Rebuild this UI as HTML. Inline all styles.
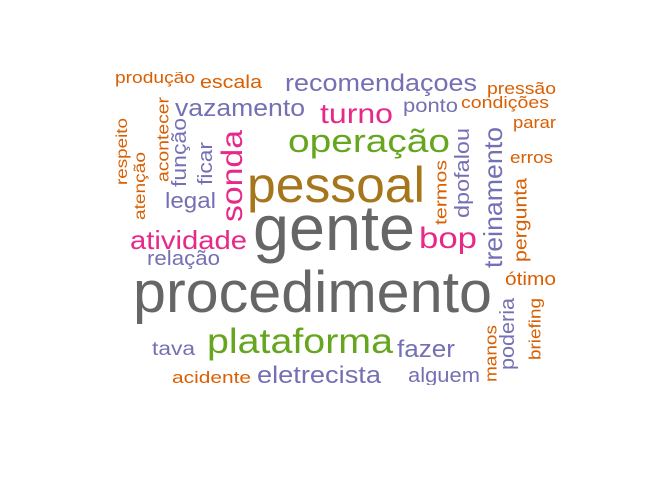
<!DOCTYPE html>
<html><head><meta charset="utf-8"><style>
html,body{margin:0;padding:0;background:#fff;width:672px;height:480px;overflow:hidden}
svg text{font-family:"Liberation Sans",Arial,sans-serif}
</style></head><body>
<svg id="cloud" width="672" height="480" xmlns="http://www.w3.org/2000/svg">
<defs><clipPath id="clip"><rect x="0" y="72" width="672" height="313"/></clipPath></defs>
<g id="words" clip-path="url(#clip)"></g>
</svg>
<script>
const words=["produção","escala","recomendaçoes","pressão","vazamento","turno","ponto","condições","parar","operação","erros","respeito","atenção","acontecer","função","ficar","legal","sonda","pessoal","termos","dpofalou","treinamento","pergunta","atividade","gente","bop","relação","procedimento","ótimo","plataforma","tava","fazer","poderia","briefing","manos","acidente","eletrecista","alguem"];
const sizes=[17,18,24,17,24,28,19,17,17,32,17,16,16,17,20,20,22,30,50,17,20,26,18,26,64,30,20,58,18,35,19,24,20,17,17,17,24,20];
const colors=["#D95F02","#D95F02","#7570B3","#D95F02","#7570B3","#E7298A","#7570B3","#D95F02","#D95F02","#66A61E","#D95F02","#D95F02","#D95F02","#D95F02","#7570B3","#7570B3","#7570B3","#E7298A","#A6761D","#D95F02","#7570B3","#7570B3","#D95F02","#E7298A","#666666","#E7298A","#7570B3","#666666","#D95F02","#66A61E","#7570B3","#7570B3","#7570B3","#D95F02","#D95F02","#D95F02","#7570B3","#7570B3"];
// layout: [x, y(baseline or bottom), length, vertical]
const layout=[[115,83,80,0],[200,88,62,0],[285,91,192,0],[487,94,69,0],[175,116,130,0],[320,123,73,0],[403,112,55,0],[461,108,88,0],[513,128,43,0],[288,152,162,0],[510,163,43,0],[130,185,67,1],[148,220,68,1],[172,182,85,1],[190,187,69,1],[216,185,43,1],[165,208,51,0],[248,222,92,1],[247,202,178,0],[450,225,65,1],[473,218,90,1],[507,268,141,1],[530,262,84,1],[130,249,117,0],[253,250,162,0],[419,248,58,0],[147,265,73,0],[133,312,359,0],[505,285,51,0],[207,353,186,0],[152,355,43,0],[397,357,58,0],[518,370,72,1],[544,360,62,1],[500,382,57,1],[172,383,79,0],[257,383,124,0],[408,382,72,0]];
const g=document.getElementById('words');
const NS='http://www.w3.org/2000/svg';
words.forEach((w,i)=>{
  const [x,y,len,v]=layout[i];
  const t=document.createElementNS(NS,'text');
  
  
  t.setAttribute('font-size',sizes[i]);
  t.setAttribute('fill',colors[i]);
  t.setAttribute('textLength',len);
  t.setAttribute('lengthAdjust','spacingAndGlyphs');
  if(v){
    const bx=x-sizes[i]*0.2;
    t.setAttribute('x',bx);t.setAttribute('y',y);
    t.setAttribute('transform','rotate(-90 '+bx+' '+y+')');
  }else{
    t.setAttribute('x',x);t.setAttribute('y',y);
  }
  t.textContent=w;
  g.appendChild(t);
});
</script>
</body></html>
